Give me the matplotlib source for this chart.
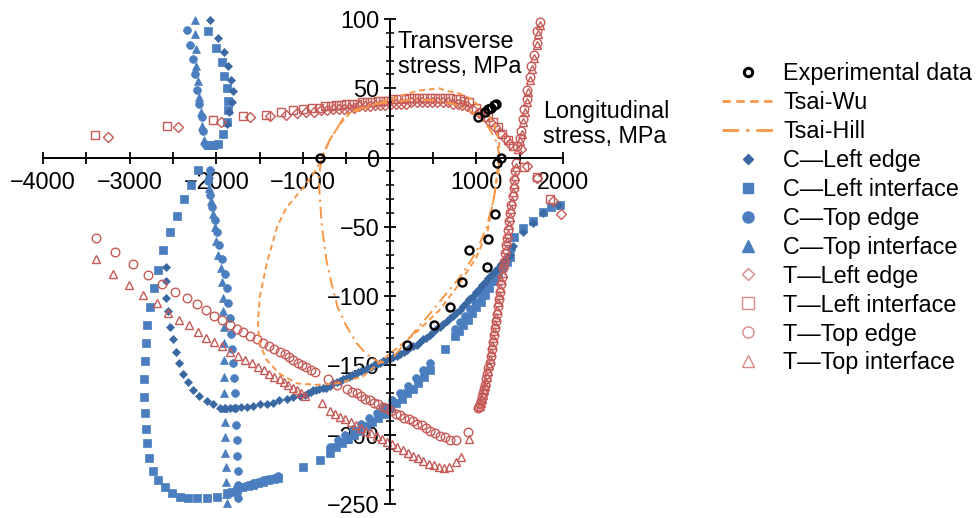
import matplotlib.pyplot as plt
from matplotlib.lines import Line2D
from matplotlib.ticker import MultipleLocator, FuncFormatter

plt.rcParams['font.family'] = ['Liberation Sans', 'DejaVu Sans']

# Experimental failure points (longitudinal, transverse stress, MPa)
exp_x = [-800, 1235, 1290, 1025, 1100, 1140, 1170, 1200, 1225, 1210, 1140, 910, 1120, 840, 700, 510, 200]
exp_y = [0, -4, 0, 29, 33, 35, 36, 38, 39, -41, -59, -67, -79, -90, -108, -121, -135]

# Tsai-Wu envelope
tw_x = [1260, 1265, 1230, 1190, 1130, 1070, 980, 890, 770, 655, 575, 425, 310, 150, 0, -150, -310,
        -460, -575, -680, -760, -840, -1000, -1190, -1300, -1420, -1500, -1520, -1500, -1420, -1270,
        -1070, -840, -610, -310, -80, 115, 345, 575, 805, 1000, 1130, 1200, 1240, 1260]
tw_y = [0, 10, 20, 26, 31, 35, 40, 44, 47, 48, 50, 49, 48, 45, 42, 39, 35,
        32, 24, 14, 4, -8, -22, -36, -50, -77, -101, -120, -134, -146, -156,
        -163, -164, -163, -158, -146, -136, -124, -110, -91, -72, -53, -30, -12, 0]

# Tsai-Hill envelope
th_x = [1270, 1235, 1150, 1040, 890, 725, 540, 300, 0, -230, -460, -540, -690, -785, -820, -805,
        -785, -730, -670, -600, -495, -380, -265, -115, 0, 230, 460, 655, 840, 1000, 1120, 1200, 1250, 1270]
th_y = [0, 11, 21, 29, 35, 39, 41, 42, 40, 38, 33, 28, 13, -1, -15, -29,
        -48, -74, -91, -108, -122, -134, -142, -148, -147, -130, -113, -98, -84, -68, -50, -30, -12, 0]

# C - Left edge
cle_x = ([-2075, -1980, -1915, -1870, -1835, -1810, -1820, -1855, -1880]
         + [-2580, -2580, -2580, -2560, -2540, -2500, -2470, -2430, -2390, -2330, -2270, -2200, -2110,
            -2040, -1960, -1900, -1845, -1790, -1720, -1650, -1580, -1500, -1420, -1350, -1280, -1190,
            -1110, -1040, -980, -945]
         + [-910, -880, -845, -810, -770, -730, -690, -650, -610, -575, -535, -500, -465, -430, -395,
            -360, -325, -290, -255, -220, -185, -150, -115, -80, -40, 0, 40, 80, 120, 160, 200, 240,
            275, 310, 350, 390, 425, 460, 500, 540, 580, 620, 660, 700, 735, 770, 810, 850, 885, 920,
            960, 1000, 1035, 1070, 1105, 1140, 1175, 1210, 1245, 1280, 1310, 1340, 1365, 1385,
            1420, 1535, 1650, 1765, 1940])
cle_y = ([99, 86, 76, 66, 56, 48, 40, 33, 24]
         + [-79, -89, -101, -111, -122, -131, -140, -148, -156, -162, -168, -172, -176,
            -178, -181, -181, -181, -181, -180, -180, -179, -178, -178, -177, -175, -174,
            -173, -172, -171, -170]
         + [-169, -168, -168, -167, -166, -166, -165, -163, -162, -161, -160, -159, -158, -157, -156,
            -155, -154, -153, -152, -151, -150, -149, -148, -147, -146, -145, -144, -143, -142, -140, -139, -137,
            -136, -135, -133, -131, -130, -128, -126, -124, -122, -120, -118, -116, -114, -112, -110, -107, -105, -102,
            -100, -97, -95, -92, -90, -87, -85, -82, -80, -77, -75, -73, -72, -70,
            -64, -54, -47, -40, -34])

# C - Left interface
cli_x = ([-2100, -2005, -1940, -1915, -1880, -1870, -1870, -1880, -1925, -1980, -2040, -2100]
         + [-2215, -2290, -2375, -2455, -2530, -2610, -2675, -2720, -2765, -2800, -2815, -2825, -2835,
            -2835, -2825, -2810, -2800, -2780, -2730, -2675, -2595, -2515, -2420, -2330, -2225, -2110,
            -1995, -1880, -1820, -1760, -1700, -1640, -1580, -1520, -1460, -1400, -1340, -1290, -1000, -805]
         + [-690, -620, -550, -480, -410, -340, -270, -200, -130, -60, 0, 70, 140, 200, 265, 330, 400,
            460, 635, 750, 800, 850, 900, 950, 1000, 1050, 1100, 1150, 1200, 1250, 1300, 1350, 1385,
            1440, 1535, 1650, 1765, 1860, 1960])
cli_y = ([91, 79, 69, 59, 50, 41, 34, 26, 17, 10, 9, 9]
         + [-9, -20, -30, -42, -54, -67, -81, -94, -108, -121, -134, -147, -160,
            -173, -184, -196, -206, -217, -226, -233, -238, -242, -245, -246, -246, -246,
            -245, -242, -241, -240, -238, -237, -236, -235, -234, -233, -232, -231, -223, -218]
         + [-213, -209, -206, -203, -200, -197, -194, -191, -188, -185, -181, -177, -174, -170, -167, -163, -158,
            -153, -138, -129, -125, -121, -117, -112, -108, -104, -99, -94, -89, -84, -79, -75, -72,
            -57, -51, -46, -39, -36, -34])

# C - Top edge
cte_x = ([-2340, -2305, -2270, -2250, -2225, -2200, -2170, -2155, -2135, -2075, -2000]
         + [-2075, -2100, -2075, -2045, -2015, -1995, -1970, -1940, -1905, -1880, -1865, -1845, -1825,
            -1815, -1810, -1800, -1790, -1780, -1770, -1765, -1760, -1755, -1755, -1755]
         + [-1700, -1640, -1580, -1520, -1460, -1400, -1340, -1290]
         + [-690, -600, -510, -420, -330, -240, -150, -60, 30, 120, 210, 300, 390, 460,
            750, 810, 870, 930, 990, 1050, 1110, 1170, 1230, 1290, 1350, 1400])
cte_y = ([92, 81, 71, 60, 49, 39, 29, 19, 10, 9, 9]
         + [-9, -17, -27, -36, -45, -54, -63, -73, -84, -94, -105, -116, -127,
            -138, -148, -159, -170, -181, -193, -204, -215, -226, -236, -246]
         + [-238, -236, -235, -234, -233, -232, -231, -230]
         + [-209, -204, -200, -196, -192, -188, -184, -180, -175, -170, -165, -159, -153, -148,
            -124, -119, -114, -109, -104, -99, -94, -89, -84, -79, -73, -66])

# C - Top interface
cti_x = ([-2250, -2250, -2240, -2230, -2215, -2195, -2175, -2160, -2140, -2100, -2040]
         + [-2090, -2080, -2060, -2040, -2020, -2000, -1975, -1950, -1935, -1925, -1925, -1915, -1915,
            -1915, -1915, -1915, -1915, -1900, -1900, -1900, -1890, -1890, -1890, -1880])
cti_y = ([99, 89, 78, 66, 55, 44, 33, 23, 13, 9, 9]
         + [-12, -22, -31, -41, -50, -60, -70, -80, -90, -101, -111, -122, -134,
            -146, -158, -170, -181, -191, -202, -213, -223, -234, -243, -249])

# T - Left edge
tle_x = [-3250, -2445, -1950, -1610, -1375, -1200, -1070, -960, -870, -790, -720, -650, -590, -530,
         -470, -410, -350, -290, -230, -170, -110, -50, 10, 70, 130, 190, 250, 310, 370, 430, 490,
         550, 610, 670, 730, 790, 840, 890, 950, 1030, 1100, 1160, 1220, 1275, 1330, 1390, 1520,
         1590, 1695, 1880, 1980]
tle_y = [15, 22, 26, 29, 30, 31, 32, 33, 33, 34, 34, 35, 35, 35,
         36, 36, 37, 37, 37, 38, 38, 38, 39, 39, 39, 39, 40, 40, 40, 40, 40,
         40, 40, 40, 39, 39, 38, 37, 35, 32, 29, 26, 22, 18, 14, 10, 6,
         -6, -15, -31, -41]

# T - Left interface
tli_x = [-3400, -2570, -2040, -1690, -1430, -1250, -1115, -1000, -900, -820, -750, -680, -620, -560,
         -500, -440, -380, -320, -260, -200, -140, -80, -20, 40, 100, 160, 220, 280, 340, 400, 460,
         520, 580, 640, 700, 760, 810, 860, 920, 1000, 1070, 1130, 1190, 1245, 1300, 1360, 1420,
         1555, 1695, 1845]
tli_y = [16, 23, 27, 30, 31, 33, 34, 35, 36, 36, 37, 37, 38, 38,
         39, 39, 39, 40, 40, 40, 41, 41, 41, 42, 42, 42, 43, 43, 43, 43, 43,
         43, 43, 43, 43, 42, 42, 41, 40, 36, 33, 29, 26, 22, 17, 13, 8,
         -7, -14, -30]

# T - Top edge
tte_x = ([-3390, -3170, -2965, -2790, -2630, -2480, -2340, -2225, -2120, -2030, -1935, -1845, -1765,
          -1690, -1615, -1535, -1460, -1390, -1330, -1270, -1210, -1160, -1110, -1060, -1010, -960,
          -910, -860]
         + [-715, -610, -495, -430, -380, -330, -280, -230, -180, -130, -80, -30, 20, 70, 120, 170,
            220, 270, 320, 370, 420, 470, 520, 580, 640, 700, 770, 900]
         + [1730, 1705, 1695, 1660, 1635, 1615, 1590, 1580, 1555, 1535, 1520, 1500, 1475]
         + [1460, 1450, 1440, 1430, 1418, 1405, 1392, 1380, 1368, 1356, 1344, 1332, 1320, 1308, 1296,
            1284, 1272, 1260, 1248, 1236, 1224, 1212, 1200, 1188, 1176, 1164, 1152, 1140, 1128, 1116,
            1104, 1092, 1080, 1068, 1056, 1044, 1032, 1025])
tte_y = ([-58, -68, -77, -85, -91, -97, -101, -106, -110, -114, -117, -121, -124,
          -126, -129, -131, -134, -136, -138, -140, -142, -144, -146, -148, -150, -151,
          -153, -155]
         + [-160, -164, -167, -169, -170, -172, -174, -175, -177, -178, -180, -181, -183, -185, -186, -188,
            -189, -190, -192, -193, -195, -197, -199, -201, -202, -204, -204, -198]
         + [98, 91, 83, 74, 66, 58, 49, 42, 35, 28, 19, 14, 8]
         + [-4, -10, -16, -22, -28, -34, -40, -46, -52, -58, -63, -69, -75, -80, -86,
            -91, -97, -102, -107, -113, -118, -123, -128, -133, -138, -143, -148, -152, -156, -160,
            -164, -167, -170, -173, -176, -178, -180, -181])

# T - Top interface
tti_x = ([-3390, -3190, -3010, -2850, -2690, -2560, -2430, -2320, -2215, -2120, -2030, -1940, -1845,
          -1755, -1670, -1590, -1520, -1450, -1390, -1330, -1270, -1220, -1170, -1120, -1070, -1020, -980]
         + [-785, -690, -630, -570, -510, -450, -390, -330, -270, -210, -150, -90, -30, 30, 90, 150,
            210, 270, 330, 390, 450, 510, 570, 630, 690, 760, 820, 920]
         + [1735, 1710, 1698, 1665, 1640, 1618, 1595, 1583, 1560, 1540, 1523, 1505, 1480]
         + [1455, 1445, 1434, 1423, 1411, 1398, 1386, 1374, 1362, 1350, 1338, 1326, 1314, 1302, 1290,
            1278, 1266, 1254, 1242, 1230, 1218, 1206, 1194, 1182, 1170, 1158, 1146, 1134, 1122, 1110,
            1098, 1086, 1074, 1062, 1050, 1038])
tti_y = ([-73, -84, -92, -99, -105, -112, -117, -121, -126, -130, -133, -136, -140,
          -143, -146, -148, -151, -153, -156, -158, -160, -162, -164, -166, -168, -170, -172]
         + [-177, -183, -185, -187, -189, -191, -193, -195, -197, -199, -201, -203, -205, -207, -209, -211,
            -213, -215, -217, -219, -221, -222, -223, -224, -223, -220, -216, -203]
         + [96, 89, 81, 72, 64, 56, 47, 40, 33, 26, 17, 12, 6]
         + [-7, -13, -19, -25, -31, -37, -43, -49, -55, -60, -66, -72, -77, -83, -88,
            -94, -99, -104, -110, -115, -120, -125, -130, -135, -140, -145, -150, -154, -158, -162,
            -165, -168, -171, -174, -177, -179])

BLUE = '#4A7EBF'
BLUE_DARK = '#3A68A3'
RED = '#C65A57'
RED_LIGHT = '#D98A88'
ORANGE = '#F79646'
FS = 16.8

fig = plt.figure(figsize=(9.79, 5.18), dpi=100)
ax = fig.add_axes([43 / 979, 1 - 504 / 518, 520 / 979, 485 / 518])

# compression series (filled blue)
ax.plot(cli_x, cli_y, ls='none', marker='s', ms=5.2, mfc=BLUE, mec=BLUE, mew=0.5, clip_on=False)
ax.plot(cte_x, cte_y, ls='none', marker='o', ms=5.6, mfc=BLUE, mec=BLUE, mew=0.5, clip_on=False)
ax.plot(cti_x, cti_y, ls='none', marker='^', ms=6.0, mfc=BLUE, mec=BLUE, mew=0.5, clip_on=False)
ax.plot(cle_x, cle_y, ls='none', marker='D', ms=3.8, mfc=BLUE_DARK, mec=BLUE_DARK, mew=0.5, clip_on=False)

# tension series (hollow red)
ax.plot(tli_x, tli_y, ls='none', marker='s', ms=5.6, mfc='none', mec=RED, mew=1.0, clip_on=False)
ax.plot(tle_x, tle_y, ls='none', marker='D', ms=4.6, mfc='none', mec=RED, mew=1.0, clip_on=False)
ax.plot(tte_x, tte_y, ls='none', marker='o', ms=6.2, mfc='none', mec=RED, mew=1.0, clip_on=False)
ax.plot(tti_x, tti_y, ls='none', marker='^', ms=6.4, mfc='none', mec=RED, mew=1.0, clip_on=False)

# failure criteria
ax.plot(tw_x, tw_y, color=ORANGE, lw=1.4, ls=(0, (3, 2)), clip_on=False)
ax.plot(th_x, th_y, color=ORANGE, lw=1.4, ls=(0, (6, 2.5, 1.2, 2.5)), clip_on=False)

ax.plot(exp_x, exp_y, ls='none', marker='o', ms=5.8, mfc='none', mec='black', mew=1.7,
        clip_on=False, zorder=5)

ax.set_xlim(-4000, 2000)
ax.set_ylim(-250, 100)
ax.spines['left'].set_position(('data', 0))
ax.spines['bottom'].set_position(('data', 0))
ax.spines['top'].set_visible(False)
ax.spines['right'].set_visible(False)
for s in ('left', 'bottom'):
    ax.spines[s].set_linewidth(1.4)

ax.xaxis.set_major_locator(MultipleLocator(1000))
ax.xaxis.set_minor_locator(MultipleLocator(500))
ax.yaxis.set_major_locator(MultipleLocator(50))
ax.yaxis.set_minor_locator(MultipleLocator(10))


def fmt_x(v, pos):
    if v == 0:
        return ''
    return ('\u2212' if v < 0 else '') + f'{abs(v):.0f}'


def fmt_y(v, pos):
    return ('\u2212' if v < 0 else '') + f'{abs(v):.0f}'


ax.xaxis.set_major_formatter(FuncFormatter(fmt_x))
ax.yaxis.set_major_formatter(FuncFormatter(fmt_y))
ax.tick_params(axis='x', which='both', direction='inout', length=8, width=1.3,
               labelsize=FS, pad=6)
ax.tick_params(axis='y', which='major', direction='inout', length=9, width=1.3,
               labelsize=FS, pad=3)
ax.tick_params(axis='y', which='minor', direction='inout', length=6, width=1.1)

fig.text(398 / 979, 1 - 30 / 518, 'Transverse\nstress, MPa', ha='left', va='top',
         fontsize=FS, linespacing=1.12)
fig.text(543 / 979, 1 - 100 / 518, 'Longitudinal\nstress, MPa', ha='left', va='top',
         fontsize=FS, linespacing=1.12)

handles = [
    Line2D([], [], ls='none', marker='o', ms=6, mfc='none', mec='black', mew=2.2),
    Line2D([], [], color=ORANGE, lw=2, ls=(0, (3, 2))),
    Line2D([], [], color=ORANGE, lw=2, ls=(0, (6, 2.5, 1.2, 2.5))),
    Line2D([], [], ls='none', marker='D', ms=5, mfc=BLUE_DARK, mec=BLUE_DARK),
    Line2D([], [], ls='none', marker='s', ms=7, mfc=BLUE, mec=BLUE),
    Line2D([], [], ls='none', marker='o', ms=8, mfc=BLUE, mec=BLUE),
    Line2D([], [], ls='none', marker='^', ms=9, mfc=BLUE, mec=BLUE),
    Line2D([], [], ls='none', marker='D', ms=6, mfc='none', mec=RED_LIGHT, mew=1),
    Line2D([], [], ls='none', marker='s', ms=8, mfc='none', mec=RED_LIGHT, mew=1),
    Line2D([], [], ls='none', marker='o', ms=8, mfc='none', mec=RED_LIGHT, mew=1),
    Line2D([], [], ls='none', marker='^', ms=8, mfc='none', mec=RED_LIGHT, mew=1),
]
labels = ['Experimental data', 'Tsai-Wu', 'Tsai-Hill', 'C\u2014Left edge', 'C\u2014Left interface',
          'C\u2014Top edge', 'C\u2014Top interface', 'T\u2014Left edge', 'T\u2014Left interface',
          'T\u2014Top edge', 'T\u2014Top interface']
fig.legend(handles, labels, loc='upper left', bbox_to_anchor=(722 / 979, 1 - 62 / 518),
           frameon=False, fontsize=FS, handlelength=2.2, handletextpad=0.42,
           labelspacing=0.255, borderpad=0, borderaxespad=0)

fig.savefig('out.png', dpi=100)
